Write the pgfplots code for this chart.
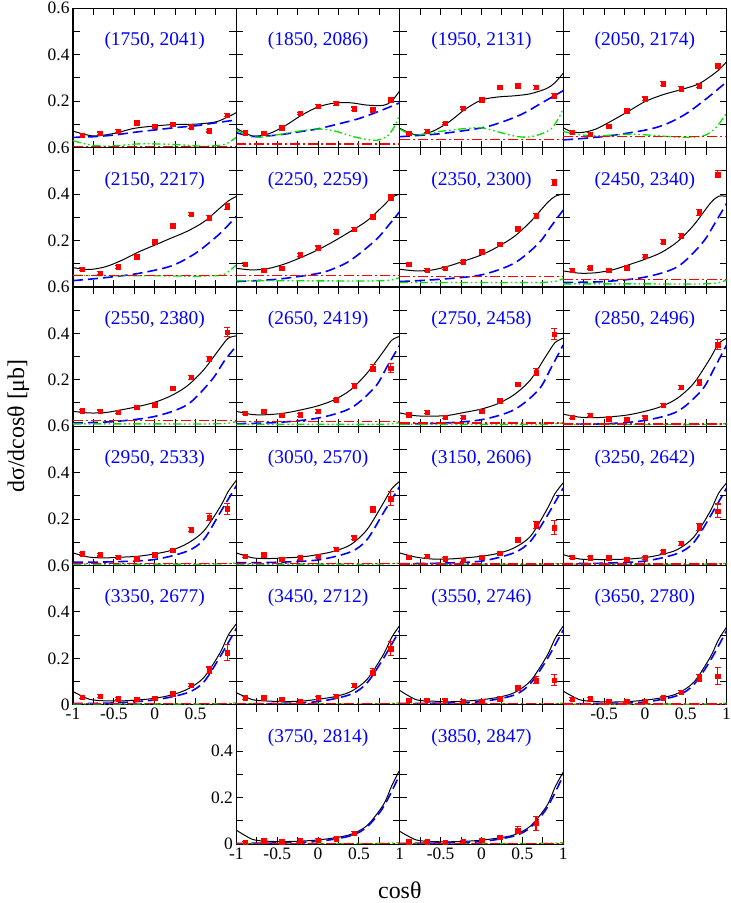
\documentclass[border=0pt]{standalone}
\usepackage{fontspec}
\setmainfont{Liberation Serif}
\usepackage{pgfplots}
\pgfplotsset{compat=1.18}
\definecolor{grn}{RGB}{0,225,0}
\tikzset{ttl/.style={font=\fontsize{19.5}{20}\selectfont, text=blue}}
\pgfplotsset{
 panel/.style={
   width=163.4bp, height=139.3bp, scale only axis, anchor=north west,
   xmin=-1, xmax=1, ymin=0, ymax=0.6,
   xtick={-1,-0.5,0,0.5,1}, ytick={0,0.2,0.4,0.6},
   minor x tick num=1, minor y tick num=1,
   tick align=inside, xtick pos=both, ytick pos=both,
   major tick length=7bp, minor tick length=7bp,
   tick style={black, line width=1bp},
   axis line style={line width=1.2bp},
   xticklabels={}, yticklabels={},
   tick label style={font=\fontsize{17.5}{17.5}\selectfont},
 },
 bk/.style={black, line width=1bp, smooth, tension=0.5, no markers},
 bl/.style={color=blue, line width=1.6bp, dash pattern=on 10bp off 5bp, smooth, tension=0.5, no markers},
 gr/.style={color=grn, line width=1.3bp, dash pattern=on 8bp off 3bp on 1.5bp off 3bp on 1.5bp off 3bp, smooth, tension=0.5, no markers},
 rd/.style={color=red, line width=1.3bp, dash pattern=on 10bp off 3bp on 2bp off 3bp, no markers},
 pt/.style={only marks, mark=square*, mark size=2.2bp, color=red,
   error bars/.cd, y dir=both, y explicit, error mark=-,
   error bar style={line width=1.1bp, red},
   error mark options={rotate=90, mark size=3bp, line width=1.1bp, red}},
}
\begin{document}
\begin{tikzpicture}
\useasboundingbox (0,0) rectangle (731bp,-903bp);
% ---------- row 1
\begin{axis}[panel, at={(73bp,-8.3bp)}, yticklabels={,0.2,0.4,0.6}]
\addplot[bk] coordinates {(-1,0.071)(-0.75,0.05)(-0.5,0.061)(-0.25,0.083)(0,0.093)(0.25,0.1)(0.5,0.101)(0.75,0.111)(0.9,0.133)(1,0.151)};
\addplot[bl] coordinates {(-1,0.044)(-0.75,0.047)(-0.5,0.054)(-0.25,0.066)(0,0.076)(0.25,0.086)(0.5,0.094)(0.75,0.107)(1,0.119)};
\addplot[gr] coordinates {(-1,0.03)(-0.8,0.012)(-0.6,0.006)(-0.4,0.01)(-0.2,0.016)(0,0.016)(0.2,0.014)(0.4,0.01)(0.6,0.006)(0.8,0.01)(0.9,0.02)(1,0.045)};
\addplot[rd] coordinates {(-1,0.004)(1,0.004)};
\addplot[pt] coordinates {(-0.889,0.054)+-(0,0.006)(-0.667,0.061)+-(0,0.006)(-0.444,0.071)+-(0,0.006)(-0.222,0.107)+-(0,0.006)(0,0.093)+-(0,0.006)(0.222,0.100)+-(0,0.006)(0.444,0.090)+-(0,0.006)(0.667,0.073)+-(0,0.006)(0.889,0.140)+-(0,0.007)};
\node[ttl] at (rel axis cs:0.5,0.765) {(1750, 2041)};
\end{axis}
\begin{axis}[panel, at={(236.4bp,-8.3bp)}]
\addplot[bk] coordinates {(-1,0.083)(-0.8,0.05)(-0.6,0.06)(-0.4,0.095)(-0.2,0.14)(0,0.175)(0.2,0.192)(0.4,0.193)(0.6,0.183)(0.8,0.182)(0.9,0.2)(1,0.245)};
\addplot[bl] coordinates {(-1,0.064)(-0.8,0.048)(-0.5,0.054)(-0.25,0.067)(0,0.081)(0.25,0.102)(0.5,0.125)(0.75,0.157)(1,0.193)};
\addplot[gr] coordinates {(-1,0.075)(-0.85,0.05)(-0.7,0.045)(-0.5,0.055)(-0.25,0.07)(0,0.08)(0.2,0.072)(0.4,0.05)(0.6,0.035)(0.72,0.032)(0.85,0.05)(0.95,0.1)(1,0.145)};
\addplot[rd] coordinates {(-1,0.016)(1,0.016)};
\addplot[pt] coordinates {(-0.889,0.064)+-(0,0.006)(-0.667,0.061)+-(0,0.006)(-0.444,0.086)+-(0,0.006)(-0.222,0.147)+-(0,0.006)(0,0.179)+-(0,0.006)(0.222,0.19)+-(0,0.007)(0.444,0.167)+-(0,0.008)(0.667,0.164)+-(0,0.008)(0.889,0.207)+-(0,0.007)};
\node[ttl] at (rel axis cs:0.5,0.765) {(1850, 2086)};
\end{axis}
\begin{axis}[panel, at={(399.8bp,-8.3bp)}]
\addplot[bk] coordinates {(-1,0.083)(-0.8,0.055)(-0.6,0.07)(-0.4,0.11)(-0.2,0.165)(0,0.205)(0.2,0.218)(0.4,0.223)(0.6,0.232)(0.8,0.255)(0.9,0.28)(1,0.32)};
\addplot[bl] coordinates {(-1,0.047)(-0.5,0.06)(0,0.085)(0.25,0.11)(0.5,0.145)(0.75,0.195)(1,0.245)};
\addplot[gr] coordinates {(-1,0.08)(-0.85,0.055)(-0.7,0.058)(-0.5,0.07)(-0.2,0.082)(0,0.085)(0.2,0.068)(0.4,0.05)(0.55,0.045)(0.7,0.055)(0.85,0.08)(0.95,0.13)(1,0.17)};
\addplot[rd] coordinates {(-1,0.036)(1,0.036)};
\addplot[pt] coordinates {(-0.889,0.062)+-(0,0.006)(-0.667,0.071)+-(0,0.006)(-0.444,0.104)+-(0,0.006)(-0.222,0.169)+-(0,0.006)(0,0.207)+-(0,0.006)(0.222,0.259)+-(0,0.008)(0.444,0.266)+-(0,0.008)(0.667,0.259)+-(0,0.009)(0.889,0.223)+-(0,0.01)};
\node[ttl] at (rel axis cs:0.5,0.765) {(1950, 2131)};
\end{axis}
\begin{axis}[panel, at={(563.2bp,-8.3bp)}]
\addplot[bk] coordinates {(-1,0.086)(-0.889,0.067)(-0.75,0.066)(-0.6,0.08)(-0.444,0.108)(-0.222,0.152)(0,0.198)(0.222,0.228)(0.444,0.25)(0.667,0.276)(0.889,0.33)(1,0.37)};
\addplot[bl] coordinates {(-1,0.033)(-0.5,0.048)(0,0.075)(0.25,0.1)(0.5,0.145)(0.75,0.21)(1,0.283)};
\addplot[gr] coordinates {(-1,0.07)(-0.8,0.055)(-0.5,0.052)(-0.2,0.058)(0,0.055)(0.2,0.05)(0.4,0.045)(0.6,0.045)(0.75,0.055)(0.88,0.09)(1,0.15)};
\addplot[rd] coordinates {(-1,0.047)(1,0.047)};
\addplot[pt] coordinates {(-0.889,0.066)+-(0,0.006)(-0.667,0.059)+-(0,0.006)(-0.444,0.093)+-(0,0.006)(-0.222,0.159)+-(0,0.006)(0,0.211)+-(0,0.007)(0.222,0.276)+-(0,0.008)(0.444,0.254)+-(0,0.008)(0.667,0.266)+-(0,0.009)(0.889,0.35)+-(0,0.01)};
\node[ttl] at (rel axis cs:0.5,0.765) {(2050, 2174)};
\end{axis}
% ---------- row 2
\begin{axis}[panel, at={(73bp,-147.6bp)}, yticklabels={,0.2,0.4,0.6}]
\addplot[bk] coordinates {(-1,0.083)(-0.8,0.075)(-0.6,0.087)(-0.4,0.115)(-0.2,0.15)(0,0.18)(0.2,0.21)(0.4,0.24)(0.6,0.28)(0.8,0.34)(0.9,0.37)(1,0.39)};
\addplot[bl] coordinates {(-1,0.027)(-0.6,0.04)(-0.2,0.058)(0.2,0.09)(0.5,0.145)(0.8,0.23)(1,0.305)};
\addplot[gr] coordinates {(-1,0.05)(-0.5,0.048)(0,0.048)(0.5,0.046)(0.8,0.05)(0.9,0.065)(1,0.095)};
\addplot[rd] coordinates {(-1,0.05)(1,0.05)};
\addplot[pt] coordinates {(-0.889,0.077)+-(0,0.006)(-0.667,0.059)+-(0,0.006)(-0.444,0.087)+-(0,0.006)(-0.222,0.13)+-(0,0.006)(0,0.195)+-(0,0.007)(0.222,0.264)+-(0,0.008)(0.444,0.314)+-(0,0.008)(0.667,0.298)+-(0,0.01)(0.889,0.346)+-(0,0.012)};
\node[ttl] at (rel axis cs:0.5,0.765) {(2150, 2217)};
\end{axis}
\begin{axis}[panel, at={(236.4bp,-147.6bp)}]
\addplot[bk] coordinates {(-1,0.08)(-0.8,0.073)(-0.6,0.08)(-0.4,0.1)(-0.2,0.128)(0,0.16)(0.2,0.198)(0.4,0.24)(0.6,0.285)(0.8,0.35)(0.9,0.385)(1,0.4)};
\addplot[bl] coordinates {(-1,0.023)(-0.5,0.033)(0,0.058)(0.2,0.08)(0.4,0.115)(0.7,0.2)(0.85,0.26)(1,0.325)};
\addplot[gr] coordinates {(-1,0.027)(0,0.026)(0.7,0.026)(0.9,0.03)(1,0.04)};
\addplot[rd] coordinates {(-1,0.049)(1,0.049)};
\addplot[pt] coordinates {(-0.889,0.098)+-(0,0.006)(-0.667,0.073)+-(0,0.006)(-0.444,0.08)+-(0,0.006)(-0.222,0.138)+-(0,0.006)(0,0.169)+-(0,0.007)(0.222,0.238)+-(0,0.008)(0.444,0.248)+-(0,0.008)(0.667,0.303)+-(0,0.01)(0.889,0.386)+-(0,0.012)};
\node[ttl] at (rel axis cs:0.5,0.765) {(2250, 2259)};
\end{axis}
\begin{axis}[panel, at={(399.8bp,-147.6bp)}]
\addplot[bk] coordinates {(-1,0.076)(-0.8,0.069)(-0.6,0.073)(-0.4,0.09)(-0.2,0.113)(0,0.138)(0.2,0.173)(0.4,0.217)(0.6,0.281)(0.8,0.36)(0.9,0.39)(1,0.4)};
\addplot[bl] coordinates {(-1,0.023)(-0.5,0.033)(0,0.052)(0.4,0.102)(0.7,0.188)(0.85,0.26)(1,0.331)};
\addplot[gr] coordinates {(-1,0.019)(0,0.019)(0.7,0.019)(0.9,0.024)(1,0.035)};
\addplot[rd] coordinates {(-1,0.044)(1,0.044)};
\addplot[pt] coordinates {(-0.889,0.098)+-(0,0.006)(-0.667,0.073)+-(0,0.006)(-0.444,0.08)+-(0,0.006)(-0.222,0.109)+-(0,0.006)(0,0.152)+-(0,0.007)(0.222,0.184)+-(0,0.007)(0.444,0.25)+-(0,0.008)(0.667,0.305)+-(0,0.01)(0.889,0.449)+-(0,0.012)};
\node[ttl] at (rel axis cs:0.5,0.765) {(2350, 2300)};
\end{axis}
\begin{axis}[panel, at={(563.2bp,-147.6bp)}]
\addplot[bk] coordinates {(-1,0.069)(-0.8,0.059)(-0.6,0.061)(-0.4,0.073)(-0.2,0.095)(0,0.119)(0.2,0.148)(0.4,0.195)(0.6,0.267)(0.8,0.36)(0.9,0.39)(1,0.39)};
\addplot[bl] coordinates {(-1,0.019)(-0.5,0.023)(0,0.042)(0.4,0.087)(0.7,0.188)(0.85,0.27)(1,0.36)};
\addplot[gr] coordinates {(-1,0.013)(0,0.013)(0.7,0.013)(0.9,0.018)(1,0.03)};
\addplot[rd] coordinates {(-1,0.033)(1,0.033)};
\addplot[pt] coordinates {(-0.889,0.073)+-(0,0.006)(-0.667,0.083)+-(0,0.006)(-0.444,0.073)+-(0,0.006)(-0.222,0.083)+-(0,0.006)(0,0.133)+-(0,0.007)(0.222,0.195)+-(0,0.008)(0.444,0.221)+-(0,0.01)(0.667,0.32)+-(0,0.012)(0.889,0.485)+-(0,0.015)};
\node[ttl] at (rel axis cs:0.5,0.765) {(2450, 2340)};
\end{axis}
% ---------- row 3
\begin{axis}[panel, at={(73bp,-286.9bp)}, yticklabels={,0.2,0.4,0.6}]
\addplot[bk] coordinates {(-1,0.064)(-0.8,0.057)(-0.6,0.059)(-0.4,0.071)(-0.2,0.085)(0,0.103)(0.2,0.131)(0.4,0.174)(0.6,0.243)(0.8,0.336)(0.9,0.379)(1,0.389)};
\addplot[bl] coordinates {(-1,0.014)(-0.5,0.02)(0,0.042)(0.4,0.093)(0.7,0.2)(0.85,0.28)(1,0.346)};
\addplot[gr] coordinates {(-1,0.01)(0,0.01)(0.7,0.01)(0.9,0.013)(1,0.02)};
\addplot[rd] coordinates {(-1,0.025)(1,0.025)};
\addplot[pt] coordinates {(-0.889,0.067)+-(0,0.006)(-0.667,0.064)+-(0,0.006)(-0.444,0.06)+-(0,0.006)(-0.222,0.082)+-(0,0.006)(0,0.092)+-(0,0.007)(0.222,0.164)+-(0,0.008)(0.444,0.21)+-(0,0.01)(0.667,0.29)+-(0,0.012)(0.889,0.405)+-(0,0.02)};
\node[ttl] at (rel axis cs:0.5,0.765) {(2550, 2380)};
\end{axis}
\begin{axis}[panel, at={(236.4bp,-286.9bp)}]
\addplot[bk] coordinates {(-1,0.064)(-0.8,0.05)(-0.6,0.05)(-0.4,0.057)(-0.2,0.071)(0,0.088)(0.2,0.114)(0.4,0.157)(0.6,0.229)(0.8,0.322)(0.9,0.37)(1,0.387)};
\addplot[bl] coordinates {(-1,0.011)(-0.5,0.016)(0,0.035)(0.4,0.078)(0.7,0.17)(0.85,0.26)(1,0.35)};
\addplot[gr] coordinates {(-1,0.008)(0,0.008)(0.7,0.008)(0.9,0.01)(1,0.016)};
\addplot[rd] coordinates {(-1,0.021)(1,0.021)};
\addplot[pt] coordinates {(-0.889,0.057)+-(0,0.006)(-0.667,0.064)+-(0,0.006)(-0.444,0.047)+-(0,0.006)(-0.222,0.049)+-(0,0.006)(0,0.064)+-(0,0.007)(0.222,0.114)+-(0,0.007)(0.444,0.174)+-(0,0.01)(0.667,0.25)+-(0,0.015)(0.889,0.25)+-(0,0.02)};
\node[ttl] at (rel axis cs:0.5,0.765) {(2650, 2419)};
\end{axis}
\begin{axis}[panel, at={(399.8bp,-286.9bp)}]
\addplot[bk] coordinates {(-1,0.057)(-0.8,0.045)(-0.6,0.043)(-0.4,0.047)(-0.2,0.06)(0,0.074)(0.2,0.097)(0.4,0.136)(0.6,0.2)(0.8,0.308)(0.9,0.36)(1,0.379)};
\addplot[bl] coordinates {(-1,0.01)(-0.5,0.013)(0,0.028)(0.4,0.071)(0.7,0.157)(0.85,0.25)(1,0.35)};
\addplot[gr] coordinates {(-1,0.008)(0,0.008)(0.7,0.008)(0.9,0.01)(1,0.014)};
\addplot[rd] coordinates {(-1,0.014)(1,0.014)};
\addplot[pt] coordinates {(-0.889,0.049)+-(0,0.006)(-0.667,0.061)+-(0,0.006)(-0.444,0.039)+-(0,0.006)(-0.222,0.039)+-(0,0.006)(0,0.064)+-(0,0.007)(0.222,0.11)+-(0,0.007)(0.444,0.181)+-(0,0.008)(0.667,0.233)+-(0,0.015)(0.889,0.397)+-(0,0.025)};
\node[ttl] at (rel axis cs:0.5,0.765) {(2750, 2458)};
\end{axis}
\begin{axis}[panel, at={(563.2bp,-286.9bp)}]
\addplot[bk] coordinates {(-1,0.052)(-0.8,0.039)(-0.6,0.037)(-0.4,0.041)(-0.2,0.049)(0,0.064)(0.2,0.085)(0.4,0.121)(0.6,0.186)(0.8,0.293)(0.9,0.355)(1,0.379)};
\addplot[bl] coordinates {(-1,0.01)(-0.5,0.01)(0,0.025)(0.4,0.064)(0.7,0.157)(0.85,0.25)(1,0.35)};
\addplot[gr] coordinates {(-1,0.007)(0,0.007)(0.7,0.007)(0.9,0.009)(1,0.012)};
\addplot[rd] coordinates {(-1,0.01)(1,0.01)};
\addplot[pt] coordinates {(-0.889,0.039)+-(0,0.006)(-0.667,0.047)+-(0,0.006)(-0.444,0.032)+-(0,0.006)(-0.222,0.031)+-(0,0.006)(0,0.038)+-(0,0.006)(0.222,0.09)+-(0,0.007)(0.444,0.167)+-(0,0.008)(0.667,0.189)+-(0,0.012)(0.889,0.351)+-(0,0.022)};
\node[ttl] at (rel axis cs:0.5,0.765) {(2850, 2496)};
\end{axis}
% ---------- row 4
\begin{axis}[panel, at={(73bp,-426.2bp)}, yticklabels={,0.2,0.4,0.6}]
\addplot[bk] coordinates {(-1,0.054)(-0.8,0.036)(-0.6,0.033)(-0.4,0.036)(-0.2,0.04)(0,0.05)(0.2,0.065)(0.4,0.095)(0.6,0.148)(0.8,0.252)(0.9,0.319)(1,0.367)};
\addplot[bl] coordinates {(-1,0.014)(-0.5,0.016)(0,0.026)(0.4,0.062)(0.6,0.112)(0.8,0.227)(1,0.344)};
\addplot[gr] coordinates {(-1,0.006)(0,0.006)(0.7,0.006)(1,0.01)};
\addplot[rd] coordinates {(-1,0.009)(1,0.009)};
\addplot[pt] coordinates {(-0.889,0.05)+-(0,0.006)(-0.667,0.047)+-(0,0.006)(-0.444,0.037)+-(0,0.006)(-0.222,0.03)+-(0,0.006)(0,0.047)+-(0,0.006)(0.222,0.065)+-(0,0.007)(0.444,0.155)+-(0,0.008)(0.667,0.209)+-(0,0.015)(0.889,0.244)+-(0,0.025)};
\node[ttl] at (rel axis cs:0.5,0.765) {(2950, 2533)};
\end{axis}
\begin{axis}[panel, at={(236.4bp,-426.2bp)}]
\addplot[bk] coordinates {(-1,0.054)(-0.8,0.033)(-0.6,0.03)(-0.4,0.033)(-0.2,0.037)(0,0.047)(0.2,0.062)(0.4,0.09)(0.6,0.155)(0.8,0.27)(0.9,0.33)(1,0.363)};
\addplot[bl] coordinates {(-1,0.012)(-0.5,0.014)(0,0.024)(0.4,0.059)(0.6,0.112)(0.8,0.227)(1,0.341)};
\addplot[gr] coordinates {(-1,0.006)(0,0.006)(0.7,0.006)(1,0.01)};
\addplot[rd] coordinates {(-1,0.008)(1,0.008)};
\addplot[pt] coordinates {(-0.889,0.04)+-(0,0.006)(-0.667,0.047)+-(0,0.006)(-0.444,0.026)+-(0,0.006)(-0.222,0.033)+-(0,0.006)(0,0.04)+-(0,0.006)(0.222,0.069)+-(0,0.007)(0.444,0.119)+-(0,0.008)(0.667,0.241)+-(0,0.012)(0.889,0.288)+-(0,0.03)};
\node[ttl] at (rel axis cs:0.5,0.765) {(3050, 2570)};
\end{axis}
\begin{axis}[panel, at={(399.8bp,-426.2bp)}]
\addplot[bk] coordinates {(-1,0.054)(-0.8,0.036)(-0.6,0.028)(-0.4,0.028)(-0.2,0.033)(0,0.04)(0.2,0.052)(0.4,0.076)(0.6,0.126)(0.8,0.241)(0.9,0.31)(1,0.356)};
\addplot[bl] coordinates {(-1,0.008)(-0.5,0.01)(0,0.019)(0.4,0.055)(0.6,0.105)(0.8,0.212)(1,0.334)};
\addplot[gr] coordinates {(-1,0.005)(0,0.005)(0.7,0.005)(1,0.009)};
\addplot[rd] coordinates {(-1,0.007)(1,0.007)};
\addplot[pt] coordinates {(-0.889,0.037)+-(0,0.006)(-0.667,0.04)+-(0,0.006)(-0.444,0.03)+-(0,0.006)(-0.222,0.023)+-(0,0.006)(0,0.036)+-(0,0.006)(0.222,0.054)+-(0,0.007)(0.444,0.112)+-(0,0.008)(0.667,0.176)+-(0,0.015)(0.889,0.162)+-(0,0.03)};
\node[ttl] at (rel axis cs:0.5,0.765) {(3150, 2606)};
\end{axis}
\begin{axis}[panel, at={(563.2bp,-426.2bp)}]
\addplot[bk] coordinates {(-1,0.047)(-0.8,0.028)(-0.6,0.026)(-0.4,0.026)(-0.2,0.028)(0,0.034)(0.2,0.047)(0.4,0.069)(0.6,0.123)(0.8,0.234)(0.9,0.31)(1,0.356)};
\addplot[bl] coordinates {(-1,0.008)(-0.5,0.01)(0,0.019)(0.4,0.052)(0.6,0.1)(0.8,0.212)(1,0.334)};
\addplot[gr] coordinates {(-1,0.005)(0,0.005)(0.7,0.005)(1,0.009)};
\addplot[rd] coordinates {(-1,0.006)(1,0.006)};
\addplot[pt] coordinates {(-0.889,0.037)+-(0,0.006)(-0.667,0.033)+-(0,0.006)(-0.444,0.033)+-(0,0.006)(-0.222,0.026)+-(0,0.006)(0,0.033)+-(0,0.006)(0.222,0.059)+-(0,0.007)(0.444,0.095)+-(0,0.008)(0.667,0.167)+-(0,0.015)(0.889,0.235)+-(0,0.03)};
\node[ttl] at (rel axis cs:0.5,0.765) {(3250, 2642)};
\end{axis}
% ---------- row 5
\begin{axis}[panel, at={(73bp,-565.5bp)}, yticklabels={0,0.2,0.4,0.6}, xticklabels={-1,-0.5,0,0.5,}]
\addplot[bk] coordinates {(-1,0.057)(-0.8,0.024)(-0.6,0.017)(-0.4,0.017)(-0.2,0.021)(0,0.028)(0.2,0.042)(0.4,0.067)(0.6,0.117)(0.8,0.224)(0.9,0.3)(1,0.349)};
\addplot[bl] coordinates {(-1,0.006)(-0.5,0.008)(0,0.021)(0.4,0.052)(0.6,0.098)(0.8,0.207)(1,0.329)};
\addplot[gr] coordinates {(-1,0.004)(0,0.004)(0.7,0.004)(1,0.008)};
\addplot[rd] coordinates {(-1,0.005)(1,0.005)};
\addplot[pt] coordinates {(-0.889,0.034)+-(0,0.006)(-0.667,0.038)+-(0,0.006)(-0.444,0.027)+-(0,0.006)(-0.222,0.024)+-(0,0.006)(0,0.028)+-(0,0.006)(0.222,0.048)+-(0,0.007)(0.444,0.085)+-(0,0.008)(0.667,0.148)+-(0,0.015)(0.889,0.224)+-(0,0.035)};
\node[ttl] at (rel axis cs:0.5,0.765) {(3350, 2677)};
\end{axis}
\begin{axis}[panel, at={(236.4bp,-565.5bp)}]
\addplot[bk] coordinates {(-1,0.052)(-0.8,0.022)(-0.6,0.016)(-0.4,0.014)(-0.2,0.016)(0,0.024)(0.2,0.035)(0.4,0.057)(0.6,0.11)(0.8,0.217)(0.9,0.29)(1,0.342)};
\addplot[bl] coordinates {(-1,0.004)(-0.5,0.006)(0,0.014)(0.4,0.045)(0.6,0.095)(0.8,0.2)(1,0.322)};
\addplot[gr] coordinates {(-1,0.004)(0,0.004)(0.7,0.004)(1,0.008)};
\addplot[rd] coordinates {(-1,0.004)(1,0.004)};
\addplot[pt] coordinates {(-0.889,0.03)+-(0,0.006)(-0.667,0.03)+-(0,0.006)(-0.444,0.024)+-(0,0.006)(-0.222,0.016)+-(0,0.006)(0,0.03)+-(0,0.006)(0.222,0.038)+-(0,0.007)(0.444,0.084)+-(0,0.008)(0.667,0.141)+-(0,0.015)(0.889,0.241)+-(0,0.03)};
\node[ttl] at (rel axis cs:0.5,0.765) {(3450, 2712)};
\end{axis}
\begin{axis}[panel, at={(399.8bp,-565.5bp)}]
\addplot[bk] coordinates {(-1,0.062)(-0.8,0.022)(-0.6,0.016)(-0.4,0.013)(-0.2,0.016)(0,0.022)(0.2,0.032)(0.4,0.052)(0.6,0.103)(0.8,0.21)(0.9,0.285)(1,0.339)};
\addplot[bl] coordinates {(-1,0.006)(-0.5,0.007)(0,0.014)(0.4,0.042)(0.6,0.092)(0.8,0.195)(1,0.322)};
\addplot[gr] coordinates {(-1,0.003)(0,0.003)(0.7,0.003)(1,0.007)};
\addplot[rd] coordinates {(-1,0.004)(1,0.004)};
\addplot[pt] coordinates {(-0.889,0.019)+-(0,0.006)(-0.667,0.019)+-(0,0.006)(-0.444,0.019)+-(0,0.006)(-0.222,0.016)+-(0,0.006)(0,0.016)+-(0,0.006)(0.222,0.026)+-(0,0.007)(0.444,0.074)+-(0,0.008)(0.667,0.107)+-(0,0.015)(0.889,0.107)+-(0,0.025)};
\node[ttl] at (rel axis cs:0.5,0.765) {(3550, 2746)};
\end{axis}
\begin{axis}[panel, at={(563.2bp,-565.5bp)}, xticklabels={,-0.5,0,0.5,1}]
\addplot[bk] coordinates {(-1,0.059)(-0.8,0.022)(-0.6,0.014)(-0.4,0.012)(-0.2,0.014)(0,0.02)(0.2,0.03)(0.4,0.049)(0.6,0.098)(0.8,0.205)(0.9,0.28)(1,0.335)};
\addplot[bl] coordinates {(-1,0.005)(-0.5,0.006)(0,0.012)(0.4,0.04)(0.6,0.088)(0.8,0.19)(1,0.32)};
\addplot[gr] coordinates {(-1,0.003)(0,0.003)(0.7,0.003)(1,0.007)};
\addplot[rd] coordinates {(-1,0.004)(1,0.004)};
\addplot[pt] coordinates {(-0.889,0.024)+-(0,0.006)(-0.667,0.026)+-(0,0.006)(-0.444,0.016)+-(0,0.006)(-0.222,0.016)+-(0,0.006)(0,0.016)+-(0,0.006)(0.222,0.03)+-(0,0.007)(0.444,0.055)+-(0,0.008)(0.667,0.117)+-(0,0.015)(0.889,0.124)+-(0,0.035)};
\node[ttl] at (rel axis cs:0.5,0.765) {(3650, 2780)};
\end{axis}
% ---------- row 6
\begin{axis}[panel, at={(236.4bp,-704.8bp)}, yticklabels={0,0.2,0.4,}, xticklabels={-1,-0.5,0,0.5,1}]
\addplot[bk] coordinates {(-1,0.06)(-0.8,0.02)(-0.6,0.012)(-0.4,0.011)(-0.2,0.013)(0,0.018)(0.2,0.027)(0.4,0.042)(0.6,0.08)(0.8,0.17)(0.9,0.25)(1,0.32)};
\addplot[bl] coordinates {(-1,0.003)(-0.5,0.005)(0,0.012)(0.4,0.036)(0.6,0.075)(0.8,0.16)(1,0.3)};
\addplot[gr] coordinates {(-1,0.003)(0,0.003)(0.7,0.003)(1,0.006)};
\addplot[rd] coordinates {(-1,0.003)(1,0.003)};
\addplot[pt] coordinates {(-0.889,0.007)+-(0,0.005)(-0.667,0.014)+-(0,0.005)(-0.444,0.01)+-(0,0.005)(-0.222,0.014)+-(0,0.005)(0,0.017)+-(0,0.006)(0.222,0.024)+-(0,0.006)(0.444,0.047)+-(0,0.008)};
\node[ttl] at (rel axis cs:0.5,0.765) {(3750, 2814)};
\end{axis}
\begin{axis}[panel, at={(399.8bp,-704.8bp)}, xticklabels={,-0.5,0,0.5,1}]
\addplot[bk] coordinates {(-1,0.055)(-0.8,0.018)(-0.6,0.011)(-0.4,0.01)(-0.2,0.012)(0,0.017)(0.2,0.026)(0.4,0.04)(0.6,0.078)(0.8,0.165)(0.9,0.245)(1,0.31)};
\addplot[bl] coordinates {(-1,0.003)(-0.5,0.005)(0,0.011)(0.4,0.035)(0.6,0.072)(0.8,0.155)(1,0.295)};
\addplot[gr] coordinates {(-1,0.003)(0,0.003)(0.7,0.003)(1,0.006)};
\addplot[rd] coordinates {(-1,0.003)(1,0.003)};
\addplot[pt] coordinates {(-0.889,0.01)+-(0,0.005)(-0.667,0.01)+-(0,0.005)(-0.444,0.008)+-(0,0.005)(-0.222,0.012)+-(0,0.005)(0,0.018)+-(0,0.006)(0.222,0.03)+-(0,0.007)(0.444,0.06)+-(0,0.015)(0.667,0.09)+-(0,0.03)};
\node[ttl] at (rel axis cs:0.5,0.765) {(3850, 2847)};
\end{axis}
% ---------- axis titles
\node[rotate=90, anchor=base, font=\fontsize{24}{24}\selectfont] at (24bp,-426bp) {dσ/dcosθ [μb]};
\node[anchor=base, font=\fontsize{24}{24}\selectfont] at (399.8bp,-898bp) {cosθ};
\end{tikzpicture}
\end{document}
